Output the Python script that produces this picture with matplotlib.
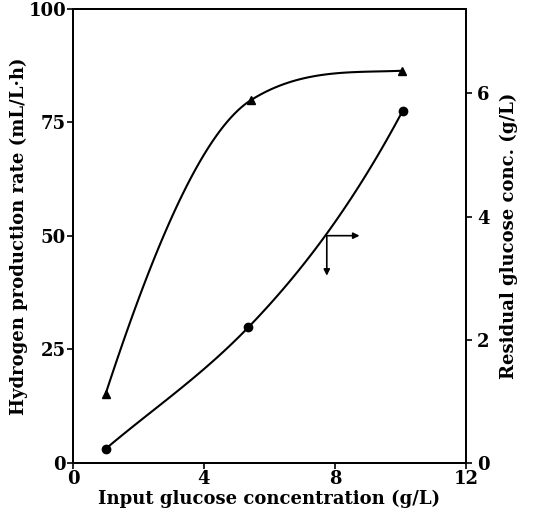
import matplotlib
matplotlib.use("Agg")
import matplotlib.pyplot as plt
import numpy as np

# data
glucose_in = [1.0, 5.45, 10.05]          # g/L
h2_rate = [15.3, 80.0, 86.4]             # mL/L.h (left axis, triangles)
glucose_in_res = [1.0, 5.35, 10.07]      # g/L
residual = [0.23, 2.2, 5.72]             # g/L (right axis, circles)

# hand-drawn looking fit: tangent slope at each point
h2_slopes = [22.0, 4.5, 0.3]
res_slopes = [0.45, 0.55, 1.0]

# arrow marker (which curve goes to which axis)
arrow_x, arrow_y = 7.75, 3.69
arrow_dx_end = 8.75
arrow_dy_end = 3.04


def hermite(xs, ys, ms, n=60):
    """piecewise cubic hermite through the points with given slopes"""
    out_x, out_y = [], []
    for i in range(len(xs) - 1):
        h = xs[i + 1] - xs[i]
        t = np.linspace(0, 1, n)
        h00 = 2 * t**3 - 3 * t**2 + 1
        h10 = t**3 - 2 * t**2 + t
        h01 = -2 * t**3 + 3 * t**2
        h11 = t**3 - t**2
        out_x.append(xs[i] + t * h)
        out_y.append(h00 * ys[i] + h10 * h * ms[i] + h01 * ys[i + 1] + h11 * h * ms[i + 1])
    return np.concatenate(out_x), np.concatenate(out_y)


plt.rcParams['font.family'] = 'DejaVu Serif'
plt.rcParams['font.weight'] = 'bold'

fig = plt.figure(figsize=(5.35, 5.29), dpi=100)
ax = fig.add_axes([0.1364, 0.1248, 0.7346, 0.8582])
ax2 = ax.twinx()

hx, hy = hermite(glucose_in, h2_rate, h2_slopes)
ax.plot(hx, hy, color='black', lw=1.5)
ax.plot(glucose_in, h2_rate, '^', color='black', ms=6)

rx, ry = hermite(glucose_in_res, residual, res_slopes)
ax2.plot(rx, ry, color='black', lw=1.5)
ax2.plot(glucose_in_res, residual, 'o', color='black', ms=6)

arrow_style = dict(arrowstyle='-|>', color='black', lw=1.2, mutation_scale=9,
                   shrinkA=0, shrinkB=0)
ax2.annotate('', xy=(arrow_dx_end, arrow_y), xytext=(arrow_x, arrow_y), arrowprops=arrow_style)
ax2.annotate('', xy=(arrow_x, arrow_dy_end), xytext=(arrow_x, arrow_y), arrowprops=arrow_style)

ax.set_xlim(0, 12)
ax.set_ylim(0, 100)
ax2.set_ylim(0, 7.37)
ax.set_xticks([0, 4, 8, 12])
ax.set_yticks([0, 25, 50, 75, 100])
ax2.set_yticks([0, 2, 4, 6])

for a in (ax, ax2):
    for s in a.spines.values():
        s.set_linewidth(1.3)
    a.tick_params(direction='out', length=4, width=1.2, labelsize=13, pad=1)
ax2.tick_params(axis='y', pad=4)

ax.set_xlabel('Input glucose concentration (g/L)', fontsize=13, fontweight='bold', labelpad=1)
ax.set_ylabel('Hydrogen production rate (mL/L·h)', fontsize=13, fontweight='bold', labelpad=0)
ax2.set_ylabel('Residual glucose conc. (g/L)', fontsize=13, fontweight='bold', labelpad=7)

fig.savefig('out.png', dpi=100)
